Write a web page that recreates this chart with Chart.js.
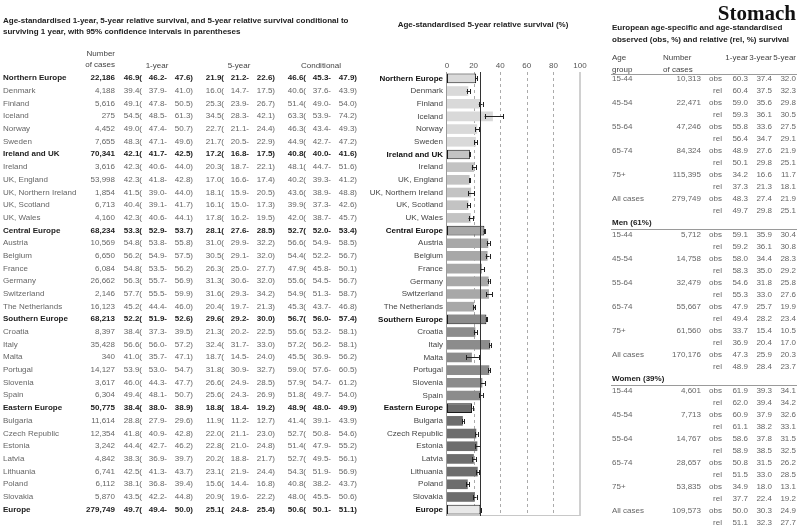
<!DOCTYPE html>
<html>
<head>
<meta charset="utf-8">
<script src="https://cdn.jsdelivr.net/npm/chart.js@4/dist/chart.umd.min.js"></script>
<style>
  html, body { margin:0; padding:0; background:#fff; }
  #wrap { position:relative; width:800px; height:525px; overflow:hidden; background:#fff; }
  #c { position:absolute; left:0; top:0; }
  .t { position:absolute; white-space:nowrap; font-family:'Liberation Sans', Arial, sans-serif; }
</style>
</head>
<body>
<div id="wrap"><canvas id="c" width="800" height="525"></canvas></div>
<script>
// ---------------- DATA ----------------
const names = ['Northern Europe','Denmark','Finland','Iceland','Norway','Sweden','Ireland and UK','Ireland','UK, England','UK, Northern Ireland','UK, Scotland','UK, Wales','Central Europe','Austria','Belgium','France','Germany','Switzerland','The Netherlands','Southern Europe','Croatia','Italy','Malta','Portugal','Slovenia','Spain','Eastern Europe','Bulgaria','Czech Republic','Estonia','Latvia','Lithuania','Poland','Slovakia','Europe'];
const aggregates = ['Northern Europe','Ireland and UK','Central Europe','Southern Europe','Eastern Europe','Europe'];
const cases = [22186,4188,5616,275,4452,7655,70341,3616,53998,1854,6713,4160,68234,10569,6650,6084,26662,2146,16123,68213,8397,35428,340,14127,3617,6304,50775,11614,12354,3242,4842,6741,6112,5870,279749];
const oneYear   = [46.9,39.4,49.1,54.5,49.0,48.3,42.1,42.3,42.3,41.5,40.4,42.3,53.3,54.8,56.2,54.8,56.3,57.7,45.2,52.2,38.4,56.6,41.0,53.9,46.0,49.4,38.4,28.8,41.8,44.4,38.3,42.5,38.1,43.5,49.7];
const oneYearLo = [46.2,37.9,47.8,48.5,47.4,47.1,41.7,40.6,41.8,39.0,39.1,40.6,52.9,53.8,54.9,53.5,55.7,55.5,44.4,51.9,37.3,56.0,35.7,53.0,44.3,48.1,38.0,27.9,40.9,42.7,36.9,41.3,36.8,42.2,49.4];
const oneYearHi = [47.6,41.0,50.5,61.3,50.7,49.6,42.5,44.0,42.8,44.0,41.7,44.1,53.7,55.8,57.5,56.2,56.9,59.9,46.0,52.6,39.5,57.2,47.1,54.7,47.7,50.7,38.9,29.6,42.8,46.2,39.7,43.7,39.4,44.8,50.0];
const fiveYear   = [21.9,16.0,25.3,34.5,22.7,21.7,17.2,20.3,17.0,18.1,16.1,17.8,28.1,31.0,30.5,26.3,31.3,31.6,20.4,29.6,21.3,32.4,18.7,31.8,26.6,25.6,18.8,11.9,22.0,22.8,20.2,23.1,15.6,20.9,25.1];
const fiveYearLo = [21.2,14.7,23.9,28.3,21.1,20.5,16.8,18.7,16.6,15.9,15.0,16.2,27.6,29.9,29.1,25.0,30.6,29.3,19.7,29.2,20.2,31.7,14.5,30.9,24.9,24.3,18.4,11.2,21.1,21.0,18.8,21.9,14.4,19.6,24.8];
const fiveYearHi = [22.6,17.5,26.7,42.1,24.4,22.9,17.5,22.1,17.4,20.5,17.3,19.5,28.5,32.2,32.0,27.7,32.0,34.2,21.3,30.0,22.5,33.0,24.0,32.7,28.5,26.9,19.2,12.7,23.0,24.8,21.7,24.4,16.8,22.2,25.4];
const cond   = [46.6,40.6,51.4,63.3,46.3,44.9,40.8,48.1,40.2,43.6,39.9,42.0,52.7,56.6,54.4,47.9,55.6,54.9,45.3,56.7,55.6,57.2,45.5,59.0,57.9,51.8,48.9,41.4,52.7,51.4,52.7,54.3,40.8,48.0,50.6];
const condLo = [45.3,37.6,49.0,53.9,43.4,42.7,40.0,44.7,39.3,38.9,37.3,38.7,52.0,54.9,52.2,45.8,54.5,51.3,43.7,56.0,53.2,56.2,36.9,57.6,54.7,49.7,48.0,39.1,50.8,47.9,49.5,51.9,38.2,45.5,50.1];
const condHi = [47.9,43.9,54.0,74.2,49.3,47.2,41.6,51.6,41.2,48.8,42.6,45.7,53.4,58.5,56.7,50.1,56.7,58.7,46.8,57.4,58.1,58.1,56.2,60.5,61.2,54.0,49.9,43.9,54.6,55.2,56.1,56.9,43.7,50.6,51.1];
const xTicks = [0,20,40,60,80,100];

// Right-hand table
const ageGroups = ['15-44','45-54','55-64','65-74','75+','All cases'];
const sexSections = ['', 'Men (61%)', 'Women (39%)'];
const allN    = [10313,22471,47246,84324,115395,279749];
const allObs1 = [60.3,59.0,55.8,48.9,34.2,48.3], allObs3 = [37.4,35.6,33.6,27.6,16.6,27.4], allObs5 = [32.0,29.8,27.5,21.9,11.7,21.9];
const allRel1 = [60.4,59.3,56.4,50.1,37.3,49.7], allRel3 = [37.5,36.1,34.7,29.8,21.3,29.8], allRel5 = [32.3,30.5,29.1,25.1,18.1,25.1];
const menN    = [5712,14758,32479,55667,61560,170176];
const menObs1 = [59.1,58.0,54.6,47.9,33.7,47.3], menObs3 = [35.9,34.4,31.8,25.7,15.4,25.9], menObs5 = [30.4,28.3,25.8,19.9,10.5,20.3];
const menRel1 = [59.2,58.3,55.3,49.4,36.9,48.9], menRel3 = [36.1,35.0,33.0,28.2,20.4,28.4], menRel5 = [30.8,29.2,27.6,23.4,17.0,23.7];
const womN    = [4601,7713,14767,28657,53835,109573];
const womObs1 = [61.9,60.9,58.6,50.8,34.9,50.0], womObs3 = [39.3,37.9,37.8,31.5,18.0,30.3], womObs5 = [34.1,32.6,31.5,26.2,13.1,24.9];
const womRel1 = [62.0,61.1,58.9,51.5,37.7,51.1], womRel3 = [39.4,38.2,38.5,33.0,22.4,32.3], womRel5 = [34.2,33.1,32.5,28.5,19.2,27.7];

// ---------------- STYLE ----------------
const FAM = "'Liberation Sans', Arial, sans-serif";
const groupFill = ['#d9d9d9','#c3c3c3','#a8a8a8','#8c8c8c','#6d6d6d','#e8e8e8'];
const isAgg = n => aggregates.includes(n);
let g = -1;
const groupOf = names.map(n => { if (isAgg(n)) g++; return g; });

const wrap = document.getElementById('wrap');
function put(txt, x, y, o = {}) {
  const size = o.size || 8, lh = size + 4;
  const d = document.createElement('div');
  d.className = 't';
  d.textContent = txt;
  d.style.fontSize = size + 'px';
  d.style.lineHeight = lh + 'px';
  d.style.top = (y - lh / 2) + 'px';
  d.style.color = o.color || '#555';
  if (o.bold) d.style.fontWeight = 'bold';
  if (o.family) d.style.fontFamily = o.family;
  if (o.align === 'right') d.style.right = (800 - x) + 'px';
  else if (o.align === 'center') { d.style.left = x + 'px'; d.style.transform = 'translateX(-50%)'; }
  else d.style.left = x + 'px';
  wrap.appendChild(d);
}
const fmt1 = v => v.toFixed(1);
const fmtN = v => v.toLocaleString('en-US');

// ---------------- CHART ----------------
const decor = {
  id: 'decor',
  beforeDatasetsDraw(chart) {
    const { ctx, chartArea: a, scales: { x } } = chart;
    ctx.save();
    ctx.lineWidth = 1;
    ctx.strokeStyle = '#ababab';
    ctx.setLineDash([3, 3]);
    xTicks.forEach(t => {
      if (t > 0 && t < 100) {
        const px = Math.round(x.getPixelForValue(t)) + 0.5;
        ctx.beginPath(); ctx.moveTo(px, a.top); ctx.lineTo(px, a.bottom); ctx.stroke();
      }
    });
    ctx.setLineDash([]);
    ctx.strokeStyle = '#d0d0d0'; ctx.lineWidth = 2;
    const pr = Math.round(x.getPixelForValue(100));
    ctx.beginPath(); ctx.moveTo(pr, a.top); ctx.lineTo(pr, a.bottom); ctx.stroke();
    ctx.lineWidth = 1; ctx.strokeStyle = '#c8c8c8';
    ctx.beginPath(); ctx.moveTo(a.left, Math.round(a.bottom) - 0.5); ctx.lineTo(pr, Math.round(a.bottom) - 0.5); ctx.stroke();
    const pl = Math.round(x.getPixelForValue(0)) - 0.5;
    ctx.strokeStyle = '#9a9a9a';
    ctx.beginPath(); ctx.moveTo(pl, a.top); ctx.lineTo(pl, a.bottom); ctx.stroke();
    ctx.restore();
  },
  afterDatasetsDraw(chart) {
    const { ctx, chartArea: a, scales: { x, y } } = chart;
    ctx.save();
    ctx.strokeStyle = '#222'; ctx.lineWidth = 1;
    names.forEach((n, i) => {
      const py = Math.round(y.getPixelForValue(i)) + 0.5;
      const x0 = x.getPixelForValue(fiveYearLo[i]), x1 = x.getPixelForValue(fiveYearHi[i]);
      ctx.beginPath();
      ctx.moveTo(x0, py); ctx.lineTo(x1, py);
      ctx.moveTo(Math.round(x0) + 0.5, py - 2.5); ctx.lineTo(Math.round(x0) + 0.5, py + 2.5);
      ctx.moveTo(Math.round(x1) + 0.5, py - 2.5); ctx.lineTo(Math.round(x1) + 0.5, py + 2.5);
      ctx.stroke();
    });
    const eu = fiveYear[names.indexOf('Europe')];
    const pe = Math.round(x.getPixelForValue(eu)) + 0.5;
    ctx.strokeStyle = '#333';
    ctx.beginPath(); ctx.moveTo(pe, a.top); ctx.lineTo(pe, a.bottom); ctx.stroke();
    ctx.restore();
  }
};

const chart = new Chart(document.getElementById('c'), {
  type: 'bar',
  data: {
    labels: names,
    datasets: [{
      data: fiveYear,
      backgroundColor: names.map((n, i) => groupFill[groupOf[i]]),
      borderColor: names.map(n => isAgg(n) ? '#1a1a1a' : 'rgba(0,0,0,0)'),
      borderWidth: names.map(n => isAgg(n) ? 1 : 0),
      borderSkipped: false,
      barPercentage: 0.76,
      categoryPercentage: 1
    }]
  },
  options: {
    indexAxis: 'y',
    responsive: false,
    animation: false,
    layout: { padding: { left: 0, right: 220, top: 0, bottom: 9 } },
    plugins: { legend: { display: false }, tooltip: { enabled: false } },
    scales: {
      x: {
        position: 'top', min: 0, max: 100,
        afterBuildTicks: s => { s.ticks = xTicks.map(v => ({ value: v })); },
        afterFit: s => { s.height = 72; },
        grid: { display: false, drawTicks: false },
        border: { display: false },
        ticks: { font: { size: 8, family: FAM }, color: '#555', padding: 1 }
      },
      y: {
        afterFit: s => { s.width = 447; },
        grid: { display: false, drawTicks: false },
        border: { display: false },
        ticks: {
          autoSkip: false, padding: 4,
          font: c => ({ size: 8, family: FAM, weight: isAgg(names[c.index]) ? 'bold' : 'normal' }),
          color: c => isAgg(names[c.index]) ? '#111' : '#444'
        }
      }
    }
  },
  plugins: [decor]
});

// ---------------- LEFT TABLE ----------------
const yS = chart.scales.y;
put('Age-standardised 1-year, 5-year relative survival, and 5-year relative survival conditional to', 3, 21, { bold: true, color: '#222' });
put('surviving 1 year, with 95% confidence intervals in parentheses', 3, 32, { bold: true, color: '#222' });
put('Number', 115, 54, { align: 'right', color: '#444' });
put('of cases', 115, 65, { align: 'right', color: '#444' });
const G = [121, 203, 285];
put('1-year', G[0] + 36, 66, { align: 'center', color: '#444' });
put('5-year', G[1] + 36, 66, { align: 'center', color: '#444' });
put('Conditional', G[2] + 36, 66, { align: 'center', color: '#444' });
names.forEach((n, i) => {
  const y = yS.getPixelForValue(i);
  const o = isAgg(n) ? { bold: true, color: '#222' } : { color: '#666' };
  put(n, 3, y, o);
  put(fmtN(cases[i]), 115, y, Object.assign({ align: 'right' }, o));
  [[oneYear, oneYearLo, oneYearHi], [fiveYear, fiveYearLo, fiveYearHi], [cond, condLo, condHi]].forEach((s, k) => {
    const g0 = G[k];
    put(fmt1(s[0][i]) + '(', g0 + 21, y, Object.assign({ align: 'right' }, o));
    put(fmt1(s[1][i]) + '-', g0 + 46, y, Object.assign({ align: 'right' }, o));
    put(fmt1(s[2][i]) + ')', g0 + 72, y, Object.assign({ align: 'right' }, o));
  });
});

// ---------------- MIDDLE TITLE ----------------
put('Age-standardised 5-year relative survival (%)', 483, 25, { align: 'center', bold: true, color: '#222' });

// ---------------- RIGHT TABLE ----------------
put('Stomach', 796, 13, { align: 'right', bold: true, size: 21, color: '#111', family: "'Liberation Serif', 'Times New Roman', serif" });
put('European age-specific and age-standardised', 612, 28, { bold: true, color: '#222' });
put('observed (obs, %) and relative (rel, %) survival', 612, 40, { bold: true, color: '#222' });
put('Age', 612, 58, { color: '#444' });
put('group', 612, 70, { color: '#444' });
put('Number', 663, 58, { color: '#444' });
put('of cases', 663, 70, { color: '#444' });
const RC = { n: 701, lab: 722, v1: 748, v3: 772, v5: 796 };
put('1-year', RC.v1, 58, { align: 'right', color: '#444' });
put('3-year', RC.v3, 58, { align: 'right', color: '#444' });
put('5-year', RC.v5, 58, { align: 'right', color: '#444' });
function hr(y) {
  const d = document.createElement('div');
  d.style.cssText = `position:absolute;left:611px;width:186px;top:${y}px;height:1px;background:#9a9a9a;`;
  wrap.appendChild(d);
}
hr(74);
const Y0 = 79, STEP = 12.0;
const secs = [
  [allN, allObs1, allObs3, allObs5, allRel1, allRel3, allRel5],
  [menN, menObs1, menObs3, menObs5, menRel1, menRel3, menRel5],
  [womN, womObs1, womObs3, womObs5, womRel1, womRel3, womRel5]
];
let k = 0;
secs.forEach((s, si) => {
  if (sexSections[si]) {
    const yh = Y0 + k * STEP;
    put(sexSections[si], 612, yh, { bold: true, color: '#222' });
    hr(Math.round(yh + 6));
    k++;
  }
  ageGroups.forEach((ag, j) => {
    const y1 = Y0 + k * STEP, y2 = Y0 + (k + 1) * STEP;
    put(ag, 612, y1, { color: '#666' });
    put(fmtN(s[0][j]), RC.n, y1, { align: 'right', color: '#666' });
    put('obs', RC.lab, y1, { align: 'right', color: '#666' });
    put(fmt1(s[1][j]), RC.v1, y1, { align: 'right', color: '#666' });
    put(fmt1(s[2][j]), RC.v3, y1, { align: 'right', color: '#666' });
    put(fmt1(s[3][j]), RC.v5, y1, { align: 'right', color: '#666' });
    put('rel', RC.lab, y2, { align: 'right', color: '#666' });
    put(fmt1(s[4][j]), RC.v1, y2, { align: 'right', color: '#666' });
    put(fmt1(s[5][j]), RC.v3, y2, { align: 'right', color: '#666' });
    put(fmt1(s[6][j]), RC.v5, y2, { align: 'right', color: '#666' });
    k += 2;
  });
});
</script>
</body>
</html>
